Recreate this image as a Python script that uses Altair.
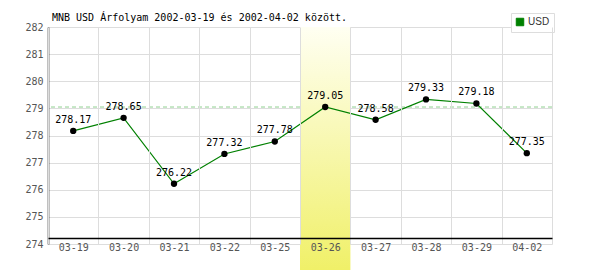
import altair as alt
import pandas as pd

dates = ["03-19", "03-20", "03-21", "03-22", "03-25", "03-26", "03-27", "03-28", "03-29", "04-02"]
usd = [278.17, 278.65, 276.22, 277.32, 277.78, 279.05, 278.58, 279.33, 279.18, 277.35]
highlight = "03-26"
series = "USD"
y_ticks = [274, 275, 276, 277, 278, 279, 280, 281, 282]
title_text = "MNB USD Árfolyam 2002-03-19 és 2002-04-02 között."

df = pd.DataFrame({
    "date": dates,
    "rate": usd,
    "series": [series] * len(dates),
    "label": [f"{v:.2f}" for v in usd],
})
hl = pd.DataFrame({"date": [highlight]})
ref = pd.DataFrame({"rate": [usd[dates.index(highlight)]]})

MONO = "DejaVu Sans Mono"

x_enc = alt.X(
    "date:N", sort=dates,
    scale=alt.Scale(type="band", paddingInner=0, paddingOuter=0, domain=dates),
    axis=alt.Axis(title=None, labelAngle=0, tickBand="extent", ticks=False,
                  domainColor="black", domainWidth=1.5, offset=-6, zindex=1,
                  grid=True, gridColor="#dddddd", labelFont=MONO, labelFontSize=10,
                  labelColor="#555555", labelPadding=4),
)
y_scale = alt.Scale(domain=[274, 282], nice=False, zero=False)
y_axis = alt.Axis(title=None, values=y_ticks, ticks=False, domainColor="black",
                  domainWidth=1.5, gridColor="#dddddd", labelFont=MONO, labelFontSize=10,
                  labelColor="#555555", labelPadding=5, zindex=0)
y_enc = alt.Y("rate:Q", scale=y_scale, axis=y_axis)

refline = alt.Chart(ref).mark_rule(color="#90d090", strokeDash=[4, 3], strokeWidth=1).encode(y=y_enc)

band = alt.Chart(hl).mark_rect(
    fill=alt.Gradient(
        gradient="linear",
        stops=[alt.GradientStop(color="#fffff2", offset=0),
               alt.GradientStop(color="#f0f068", offset=1)],
        x1=0, x2=0, y1=0, y2=1,
    )
).encode(x=x_enc, y=alt.value(0), y2=alt.value(243))

line = alt.Chart(df).mark_line(strokeWidth=1.2).encode(
    x=x_enc, y=y_enc,
    color=alt.Color("series:N", scale=alt.Scale(range=["#008000"]),
                    legend=alt.Legend(title=None, orient="none", legendX=463, legendY=-14,
                                      symbolType="square", symbolSize=56,
                                      symbolFillColor="#008000", symbolStrokeColor="#555555",
                                      symbolStrokeWidth=1, labelFont="Liberation Sans",
                                      labelFontSize=10, labelColor="#333333", labelOffset=3,
                                      fillColor="white", strokeColor="#dddddd",
                                      padding=4)),
)

points = alt.Chart(df).mark_circle(size=40, color="black", opacity=1).encode(x=x_enc, y=y_enc)

labels = alt.Chart(df).mark_text(font=MONO, fontSize=10, color="black", dy=-11,
                                 baseline="middle").encode(x=x_enc, y=y_enc, text="label:N")

chart = alt.layer(refline, band, line, points, labels).properties(
    width=504, height=217,
    autosize=alt.AutoSizeParams(type="none"),
    padding={"left": 48, "top": 27, "right": 48, "bottom": 26},
    background="white",
    title=alt.Title(title_text, anchor="start", frame="group", font=MONO, fontSize=10,
                    fontWeight="normal", color="black", dx=4, offset=-20,
                    baseline="bottom"),
).configure_view(stroke=None)

chart.save("out.html", embed_options={"renderer": "svg", "actions": False})
